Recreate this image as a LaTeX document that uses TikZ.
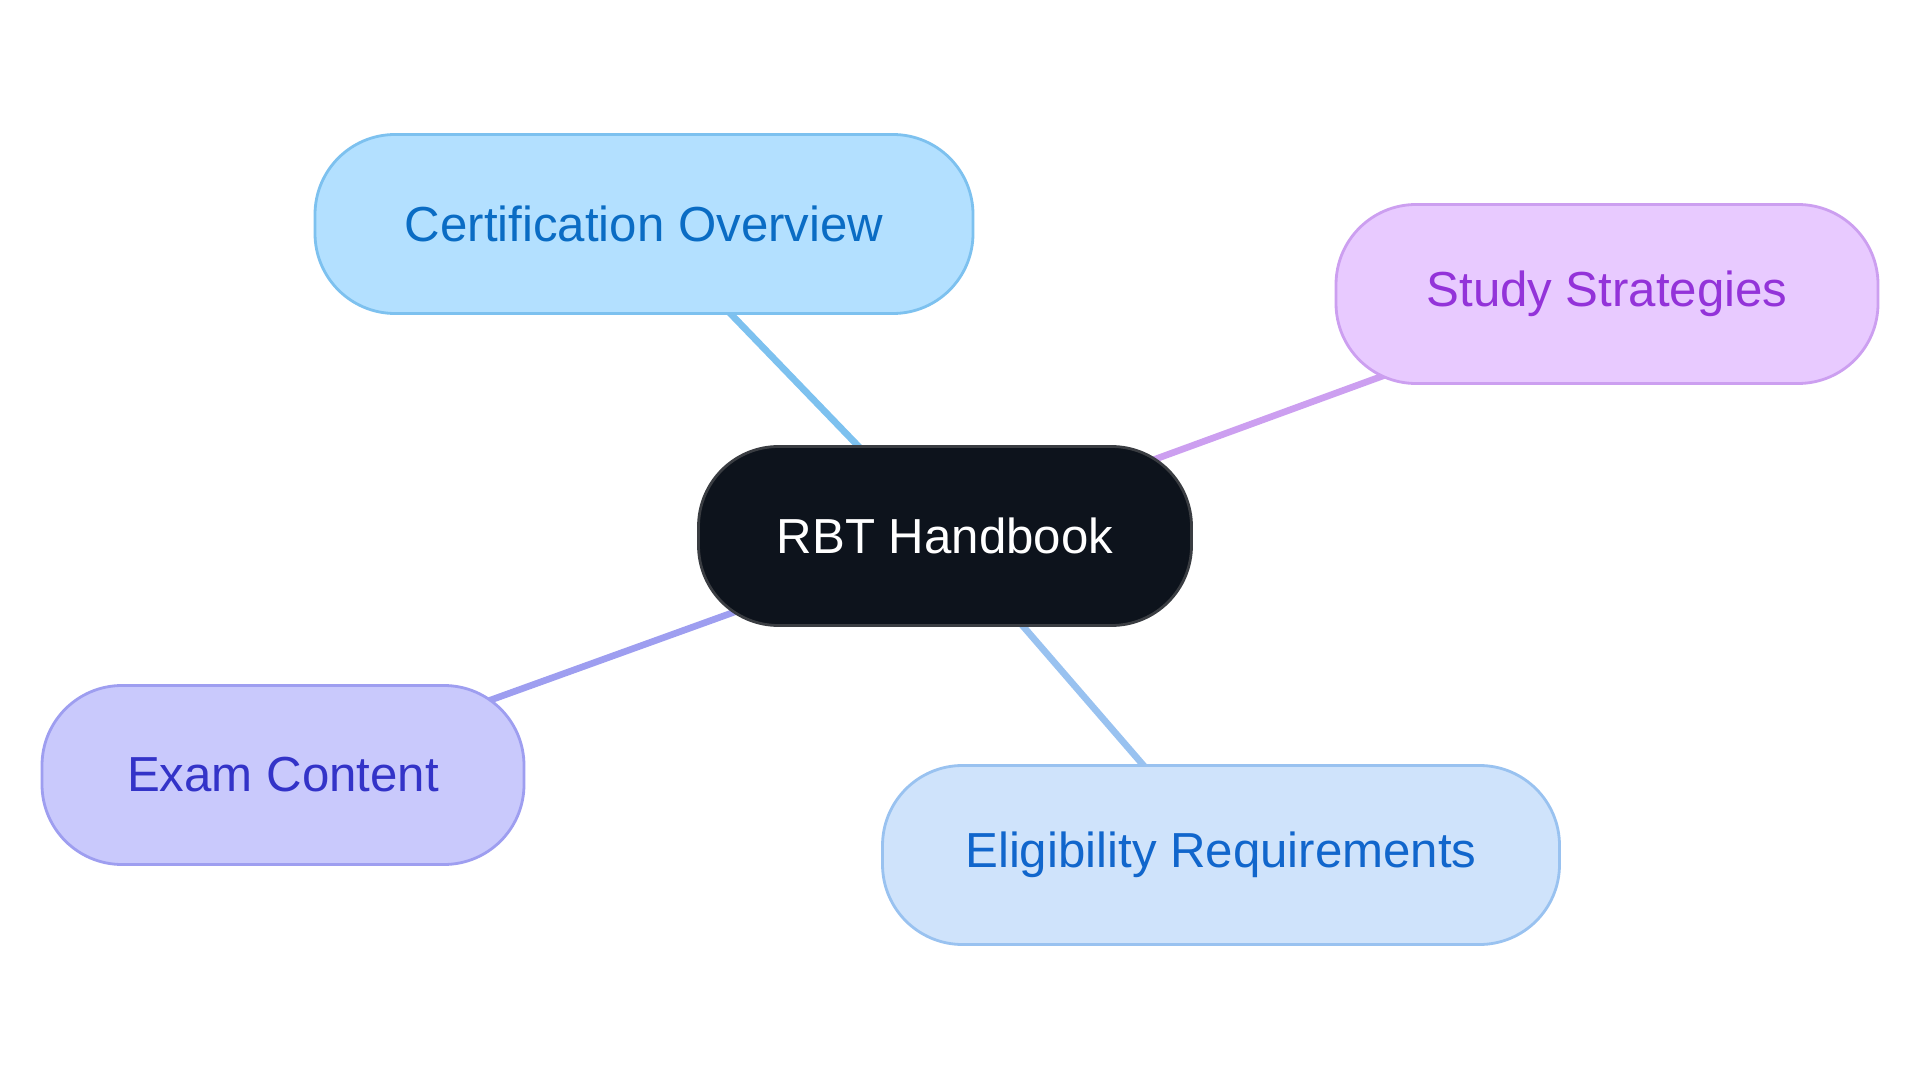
\documentclass[tikz,border=0pt]{standalone}
\usepackage{fontspec}
\setmainfont{Liberation Sans}
\usetikzlibrary{backgrounds}
\definecolor{rbtfill}{HTML}{0D131C}
\definecolor{rbtline}{HTML}{3A3D42}
\definecolor{certfill}{HTML}{B3E0FF}
\definecolor{certline}{HTML}{7DC1EF}
\definecolor{certtext}{HTML}{0A6CC4}
\definecolor{studyfill}{HTML}{E8CAFF}
\definecolor{studyline}{HTML}{CC9FF0}
\definecolor{studytext}{HTML}{9333D9}
\definecolor{examfill}{HTML}{C9C9FC}
\definecolor{examline}{HTML}{9E9EF0}
\definecolor{examtext}{HTML}{3333C8}
\definecolor{eligfill}{HTML}{CFE3FB}
\definecolor{eligline}{HTML}{99C2F0}
\definecolor{eligtext}{HTML}{1166CC}

\begin{document}
\begin{tikzpicture}[topic/.style={rectangle,rounded corners=0.8cm,line width=0.8pt,
	minimum height=1.79cm,inner sep=0pt,font=\fontsize{14}{17}\selectfont},
	link/.style={line width=1.9pt}]
\useasboundingbox (0,0) rectangle (19.2,-10.83);
\node[topic,draw=rbtline,fill=rbtfill,text=white,minimum width=4.93cm] (rbt) at (9.45,-5.36) {RBT Handbook};
\node[topic,draw=certline,fill=certfill,text=certtext,minimum width=6.58cm] (cert) at (6.44,-2.24) {Certification Overview};
\node[topic,draw=studyline,fill=studyfill,text=studytext,minimum width=5.42cm] (study) at (16.07,-2.94) {Study Strategies};
\node[topic,draw=examline,fill=examfill,text=examtext,minimum width=4.82cm] (exam) at (2.83,-7.75) {Exam Content};
\node[topic,draw=eligline,fill=eligfill,text=eligtext,minimum width=6.77cm] (elig) at (12.21,-8.55) {Eligibility Requirements};
\begin{scope}[on background layer]
\draw[link,certline] (rbt.center) -- (cert.center);
\draw[link,studyline] (rbt.center) -- (study.center);
\draw[link,examline] (rbt.center) -- (exam.center);
\draw[link,eligline] (rbt.center) -- (elig.center);
\end{scope}
\end{tikzpicture}
\end{document}
